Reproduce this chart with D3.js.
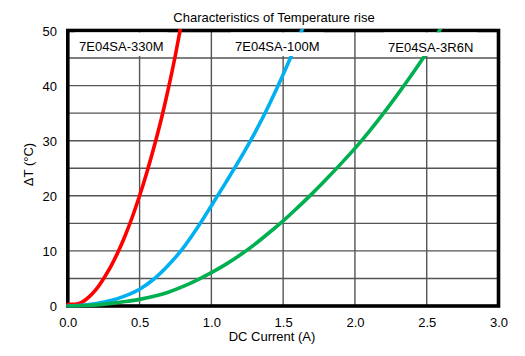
<!DOCTYPE html>
<html>
<head>
<meta charset="utf-8">
<script src="https://cdn.jsdelivr.net/npm/d3@7"></script>
<style>
  html, body { margin: 0; padding: 0; background: #fff; }
  svg { display: block; }
  text { font-family: "Liberation Sans", Arial, sans-serif; fill: #000; }
</style>
</head>
<body>
<svg id="chart" width="525" height="356"></svg>
<script>
// ---- data ----
const title = "Characteristics of Temperature rise";
const xTitle = "DC Current (A)";
const yTitle = "ΔT (°C)";
const xTickValues = [0, 0.5, 1.0, 1.5, 2.0, 2.5, 3.0];
const xTickLabels = ["0.0", "0.5", "1.0", "1.5", "2.0", "2.5", "3.0"];
const yTickValues = [0, 10, 20, 30, 40, 50];
const yTickLabels = ["0", "10", "20", "30", "40", "50"];
const yGridValues = [5, 10, 15, 20, 25, 30, 35, 40, 45];
const xGridValues = [0.5, 1.0, 1.5, 2.0, 2.5];

const seriesNames = ["7E04SA-330M", "7E04SA-100M", "7E04SA-3R6N"];

const current330M = [0, 0.05, 0.1, 0.15, 0.2, 0.25, 0.3, 0.35, 0.4, 0.45, 0.5, 0.55, 0.6, 0.65, 0.7, 0.75, 0.8];
const rise330M    = [0.3, 0.3, 0.7, 1.7, 3.1, 5.0, 7.2, 9.8, 12.8, 16.2, 20.0, 24.2, 28.8, 33.8, 39.4, 45.6, 52.5];

const current100M = [0, 0.1, 0.2, 0.3, 0.4, 0.5, 0.6, 0.7, 0.8, 0.9, 1.0, 1.1, 1.2, 1.3, 1.4, 1.5, 1.6, 1.7];
const rise100M    = [0, 0.12, 0.45, 1.0, 1.85, 3.05, 4.9, 7.4, 10.4, 14.1, 18.2, 22.4, 26.7, 31.3, 36.4, 42.0, 48.1, 54.7];

const current3R6N = [0, 0.1, 0.2, 0.3, 0.4, 0.5, 0.6, 0.7, 0.8, 0.9, 1.0, 1.1, 1.2, 1.3, 1.4, 1.5, 1.6, 1.7, 1.8, 1.9, 2.0, 2.1, 2.2, 2.3, 2.4, 2.5, 2.6, 2.7];
const rise3R6N    = [0, 0.05, 0.2, 0.47, 0.8, 1.2, 1.75, 2.5, 3.5, 4.7, 6.05, 7.55, 9.25, 11.15, 13.25, 15.45, 17.85, 20.35, 23.0, 25.75, 28.6, 31.7, 35.0, 38.5, 42.15, 46.0, 50.5, 54.8];

const seriesColors = ["#ff0000", "#00b0f0", "#00b050"];

// ---- layout ----
const svg = d3.select("#chart");
const plotLeft = 67.8, plotRight = 498.5, plotTop = 30.5, plotBottom = 306;

const x = d3.scaleLinear().domain([0, 3]).range([plotLeft, plotRight]);
const y = d3.scaleLinear().domain([0, 50]).range([plotBottom, plotTop]);

// grid
const grid = svg.append("g");
grid.selectAll("line.gy").data(yGridValues).enter().append("line")
  .attr("x1", plotLeft).attr("x2", plotRight)
  .attr("y1", d => y(d)).attr("y2", d => y(d))
  .attr("stroke", "#555").attr("stroke-width", 1.4);
grid.selectAll("line.gx").data(xGridValues).enter().append("line")
  .attr("y1", plotTop).attr("y2", plotBottom)
  .attr("x1", d => x(d)).attr("x2", d => x(d))
  .attr("stroke", "#555").attr("stroke-width", 1.4);

// axes (labels only, no tick marks)
const xAxis = d3.axisBottom(x).tickValues(xTickValues)
  .tickFormat((d, i) => xTickLabels[i]).tickSize(0).tickPadding(0);
const gx = svg.append("g").attr("transform", `translate(0,${plotBottom})`).call(xAxis);
gx.select(".domain").remove();
gx.selectAll("text").attr("font-size", 13).attr("dy", null).attr("y", 21.3)
  .style("font-family", '"Liberation Sans", Arial, sans-serif');

const yAxis = d3.axisLeft(y).tickValues(yTickValues)
  .tickFormat((d, i) => yTickLabels[i]).tickSize(0).tickPadding(0);
const gy = svg.append("g").attr("transform", `translate(57,0)`).call(yAxis);
gy.select(".domain").remove();
gy.selectAll("text").attr("font-size", 13).attr("dy", null).attr("y", 4.6).attr("x", 0)
  .style("font-family", '"Liberation Sans", Arial, sans-serif');

// border
svg.append("rect")
  .attr("x", plotLeft).attr("y", plotTop)
  .attr("width", plotRight - plotLeft).attr("height", plotBottom - plotTop)
  .attr("fill", "none").attr("stroke", "#000").attr("stroke-width", 3.6);

// curves
svg.append("clipPath").attr("id", "clip").append("rect")
  .attr("x", plotLeft - 2).attr("y", plotTop - 1.5)
  .attr("width", plotRight - plotLeft + 4).attr("height", plotBottom - plotTop + 3);

const seriesData = [
  d3.zip(current330M, rise330M),
  d3.zip(current100M, rise100M),
  d3.zip(current3R6N, rise3R6N)
];
const line = d3.line().x(d => x(d[0])).y(d => y(d[1])).curve(d3.curveMonotoneX);
svg.append("g").attr("clip-path", "url(#clip)")
  .selectAll("path").data(seriesData).enter().append("path")
  .attr("d", line)
  .attr("fill", "none")
  .attr("stroke", (d, i) => seriesColors[i])
  .attr("stroke-width", 3.6)
  .attr("stroke-linecap", "round")
  .attr("stroke-linejoin", "round");

// series labels with white boxes
const labelPos = [[79, 51], [235, 51], [388, 52.3]];
const labelG = svg.append("g");
seriesNames.forEach((name, i) => {
  const g = labelG.append("g");
  const rect = g.append("rect").attr("fill", "#fff");
  const t = g.append("text")
    .attr("x", labelPos[i][0]).attr("y", labelPos[i][1])
    .attr("font-size", 13).text(name);
  const bb = t.node().getBBox();
  rect.attr("x", bb.x - 4).attr("width", bb.width + 8)
    .attr("y", plotTop + 2).attr("height", 23.5);
});

// titles
svg.append("text").attr("x", 274).attr("y", 22).attr("text-anchor", "middle")
  .attr("font-size", 13).text(title);
svg.append("text").attr("x", 272).attr("y", 340.5).attr("text-anchor", "middle")
  .attr("font-size", 13).text(xTitle);
svg.append("text").attr("transform", "translate(33,164.5) rotate(-90)")
  .attr("text-anchor", "middle").attr("font-size", 13).text(yTitle);
</script>
</body>
</html>
